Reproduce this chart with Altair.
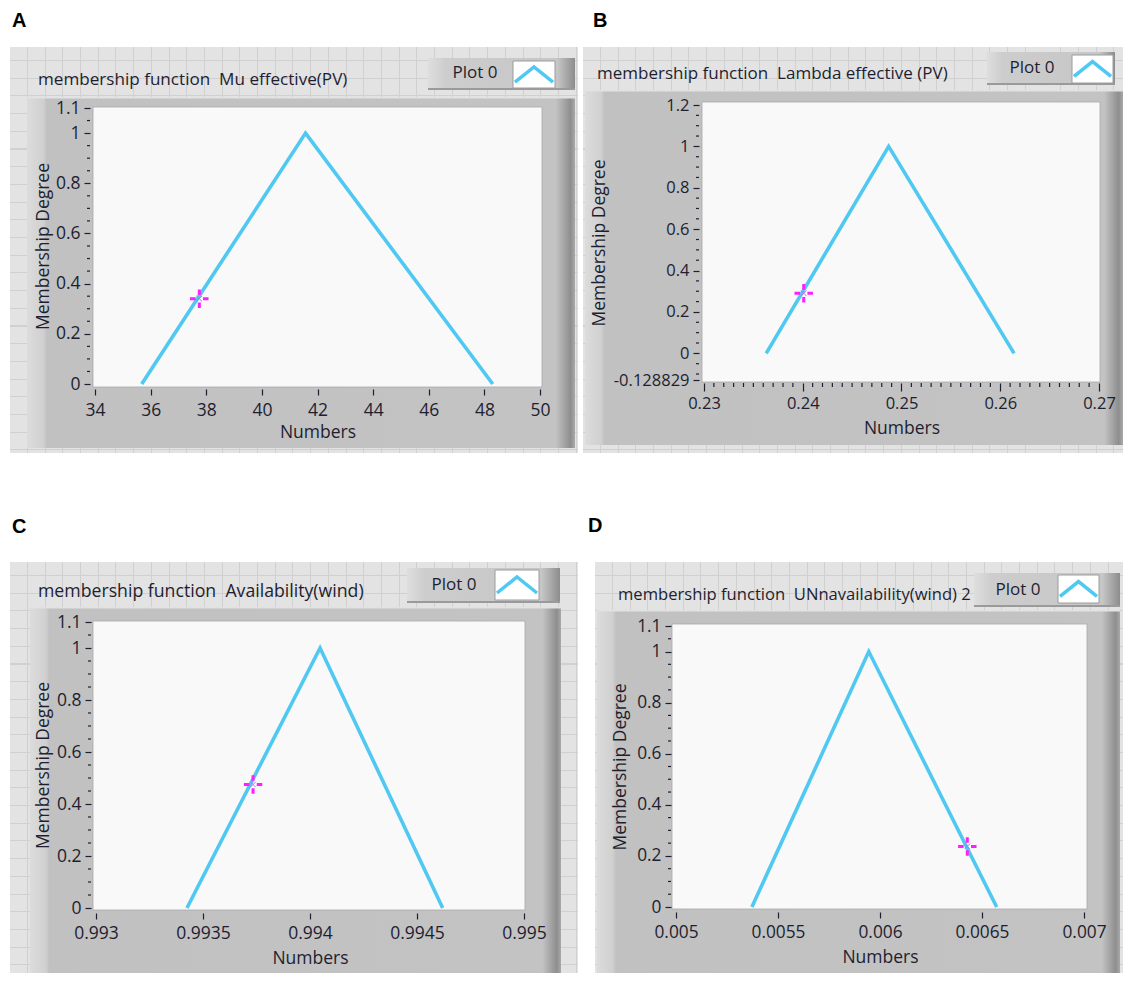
import altair as alt
import pandas as pd

# ---------------- values ----------------
# Panel A : Mu effective (PV)
A_x = [35.68, 41.57, 48.30]
A_y = [0.0, 1.0, 0.0]
A_cursor_x = [37.75]
A_cursor_y = [0.34]
A_x_ticks = [34, 36, 38, 40, 42, 44, 46, 48, 50]
A_x_labels = ["34", "36", "38", "40", "42", "44", "46", "48", "50"]
A_y_ticks = [0, 0.2, 0.4, 0.6, 0.8, 1, 1.1]
A_y_labels = ["0", "0.2", "0.4", "0.6", "0.8", "1", "1.1"]

# Panel B : Lambda effective (PV)
B_x = [0.2363, 0.2487, 0.2614]
B_y = [0.0, 1.0, 0.0]
B_cursor_x = [0.2401]
B_cursor_y = [0.29]
B_x_ticks = [0.23, 0.24, 0.25, 0.26, 0.27]
B_x_labels = ["0.23", "0.24", "0.25", "0.26", "0.27"]
B_y_ticks = [-0.128829, 0, 0.2, 0.4, 0.6, 0.8, 1, 1.2]
B_y_labels = ["-0.128829", "0", "0.2", "0.4", "0.6", "0.8", "1", "1.2"]

# Panel C : Availability (wind)
C_x = [0.993425, 0.994047, 0.994620]
C_y = [0.0, 1.0, 0.0]
C_cursor_x = [0.993734]
C_cursor_y = [0.475]
C_x_ticks = [0.993, 0.9935, 0.994, 0.9945, 0.995]
C_x_labels = ["0.993", "0.9935", "0.994", "0.9945", "0.995"]
C_y_ticks = [0, 0.2, 0.4, 0.6, 0.8, 1, 1.1]
C_y_labels = ["0", "0.2", "0.4", "0.6", "0.8", "1", "1.1"]

# Panel D : UNnavailability (wind)
D_x = [0.005372, 0.005945, 0.006572]
D_y = [0.0, 1.0, 0.0]
D_cursor_x = [0.006428]
D_cursor_y = [0.237]
D_x_ticks = [0.005, 0.0055, 0.006, 0.0065, 0.007]
D_x_labels = ["0.005", "0.0055", "0.006", "0.0065", "0.007"]
D_y_ticks = [0, 0.2, 0.4, 0.6, 0.8, 1, 1.1]
D_y_labels = ["0", "0.2", "0.4", "0.6", "0.8", "1", "1.1"]


def minor_between(lo, hi, step, majors):
    n = int(round((hi - lo) / step))
    vals = [round(lo + i * step, 6) for i in range(n + 1)]
    return [v for v in vals if all(abs(v - m) > 1e-9 for m in majors) and lo < v < hi]


A_y_minor = minor_between(0, 1.1, 0.05, A_y_ticks)
B_y_minor = minor_between(-0.1, 1.2, 0.05, B_y_ticks) + [-0.1]
B_x_minor = minor_between(0.23, 0.27, 0.001, B_x_ticks)
C_y_minor = minor_between(0, 1.1, 0.05, C_y_ticks)
D_y_minor = minor_between(0, 1.1, 0.05, D_y_ticks)

# ---------------- styling ----------------
FONT = "Open Sans"
INK = "#1e1e30"
LINE = "#4fc8f2"
CURSOR = "#ff1eff"
GRIDLINE = "#d0d0d0"
CLEAR = "rgba(208,208,208,0)"
ONE = pd.DataFrame({"k": [0]})
NB = "\u00a0"

PLUS = "M-1,0L-0.4,0M0.4,0L1,0M0,-1L0,-0.4M0,0.4L0,1"
XMARK = "M-0.3,-0.3L0.3,0.3M-0.3,0.3L0.3,-0.3"
CHEVRON = "M-1,0.4L0,-0.4L1,0.4"


def grad(stops, vertical=False):
    return alt.LinearGradient(
        gradient="linear",
        stops=[alt.GradientStop(offset=o, color=c) for o, c in stops],
        x1=0, x2=0 if vertical else 1, y1=0, y2=1 if vertical else 0)


def stripes(length, start, step):
    stops = [(0, CLEAR)]
    p = start
    while p + 1 < length:
        a, b = p / length, (p + 1) / length
        stops += [(a, CLEAR), (a, GRIDLINE), (b, GRIDLINE), (b, CLEAR)]
        p += step
    stops.append((1, CLEAR))
    return stops


FRAME_FILL = grad([(0, "#dcdcdc"), (0.03, "#d0d0d0"), (0.036, "#c1c1c1"),
                   (0.965, "#c3c3c3"), (0.992, "#8e8e8e"), (1, "#a9a9a9")])
LEGEND_FILL = grad([(0, "#dedede"), (0.12, "#cdcdcd"), (0.88, "#c6c6c6"), (1, "#8c8c8c")])


def label_expr(ticks, labels):
    expr = "''"
    for v, lab in reversed(list(zip(ticks, labels))):
        expr = f"datum.value === {v!r} ? '{lab}' : ({expr})"
    return expr


def panel(p):
    # every geometric number below is a page coordinate; the panel's view is the whole cell
    ox, oy, ex, ey = p["cell"]
    cw, ch = ex - ox, ey - oy
    X0 = lambda v: v - ox
    Y0 = lambda v: v - oy
    lfs = p["label_size"]

    def rect(b, **kw):
        return alt.Chart(ONE).mark_rect(**kw).encode(
            x=alt.value(X0(b[0])), x2=alt.value(X0(b[2])),
            y=alt.value(Y0(b[1])), y2=alt.value(Y0(b[3])))

    def text(s, xy, **kw):
        opts = dict(align="left", baseline="middle", font=FONT, fontSize=16.8, color=INK)
        opts.update(kw)
        return alt.Chart(ONE).mark_text(text=s, **opts).encode(
            x=alt.value(X0(xy[0])), y=alt.value(Y0(xy[1])))

    layers = [rect((ox, oy, ex, ey), fill="white")]
    layers.append(text(p["letter"], p["letter_xy"], font="Liberation Sans", fontSize=20,
                       fontWeight="bold", color="#000000"))
    g = p["grid"]
    layers.append(rect(g, fill="#e3e3e3"))
    layers.append(rect(g, fill=grad(stripes(g[2] - g[0], 17, 17.7))))
    layers.append(rect(g, fill=grad(stripes(g[3] - g[1], 13, 17.7), vertical=True)))
    f = p["frame"]
    layers.append(rect(f, fill=FRAME_FILL))
    layers.append(rect((f[0], f[1], f[2], f[1] + 1.5), fill="#e2e2e2"))
    layers.append(text(p["caption"], p["caption_xy"], fontSize=p["caption_size"]))
    lg = p["legend"]
    layers.append(rect(lg, fill=LEGEND_FILL))
    layers.append(rect((lg[0], lg[3] - 2, lg[2], lg[3]), fill="#9a9a9a"))
    sw = p["swatch"]
    layers.append(rect(sw, fill="white", stroke="#9c9c9c", strokeWidth=1))
    layers.append(alt.Chart(ONE).mark_point(shape=CHEVRON, size=(sw[2] - sw[0] - 4) ** 2, color=LINE,
                                            filled=False, strokeWidth=3.5, opacity=1).encode(
        x=alt.value(X0((sw[0] + sw[2]) / 2)), y=alt.value(Y0((sw[1] + sw[3]) / 2))))
    layers.append(text("Plot 0", p["legend_text"], align="center", fontSize=17))
    layers.append(rect(p["white"], fill="#f9f9f9", stroke="#a8a8a8", strokeWidth=0.8))

    px0, py0, px1, py1 = p["plot"]          # plot rectangle (domain ends) in page pixels
    xs = alt.Scale(domain=[p["x_ticks"][0], p["x_ticks"][-1]], range=[X0(px0), X0(px1)],
                   nice=False, zero=False)
    ys = alt.Scale(domain=[p["y_ticks"][0], p["y_ticks"][-1]], range=[Y0(py1), Y0(py0)],
                   nice=False, zero=False)

    x_axis = alt.Axis(
        values=p["x_ticks"], labelExpr=label_expr(p["x_ticks"], p["x_labels"]),
        offset=Y0(py1) + p["x_off"] - ch, tickSize=p["x_tick"], labelPadding=p["x_pad"],
        domain=False, grid=False, tickColor=INK, tickWidth=1.2,
        labelFont=FONT, labelFontSize=lfs, labelColor=INK, labelFlush=False, labelOverlap=False,
        labelAngle=0,
        title="Numbers", titleFont=FONT, titleFontSize=17.5, titleFontWeight="normal", titleColor=INK,
        titleX=X0((px0 + px1) / 2), titleY=p["x_title"] - p["x_off"], titleAlign="center",
        titleBaseline="middle", titleAngle=0, zindex=1)
    y_axis = alt.Axis(
        values=p["y_ticks"], labelExpr=label_expr(p["y_ticks"], p["y_labels"]),
        offset=5 - X0(px0), tickSize=6, labelPadding=4,
        domain=False, grid=False, tickColor=INK, tickWidth=1.2,
        labelFont=FONT, labelFontSize=lfs, labelColor=INK, labelFlush=False, labelOverlap=False,
        title="Membership Degree", titleFont=FONT, titleFontSize=17.5, titleFontWeight="normal",
        titleColor=INK, titleX=p["y_title"] - (px0 - 5), titleY=Y0((py0 + py1) / 2),
        titleAlign="center", titleBaseline="middle", titleAngle=270, zindex=1)

    X = lambda fld: alt.X(fld, scale=xs, axis=x_axis)
    Y = lambda fld: alt.Y(fld, scale=ys, axis=y_axis)

    layers.append(alt.Chart(pd.DataFrame({"v": p["y_minor"]})).mark_rule(color=INK, strokeWidth=1.2).encode(
        y=Y("v:Q"), x=alt.value(X0(px0) - 8), x2=alt.value(X0(px0) - 5)))
    if p.get("x_minor"):
        layers.append(alt.Chart(pd.DataFrame({"v": p["x_minor"]})).mark_rule(color=INK, strokeWidth=1.2).encode(
            x=X("v:Q"), y=alt.value(Y0(py1) + p["x_off"]), y2=alt.value(Y0(py1) + p["x_off"] + 4)))

    df = pd.DataFrame({"x": p["x"], "y": p["y"]})
    layers.append(alt.Chart(df).mark_line(color=LINE, strokeWidth=3.6).encode(x=X("x:Q"), y=Y("y:Q")))
    cur = pd.DataFrame({"x": p["cx"], "y": p["cy"]})
    layers.append(alt.Chart(cur).mark_point(shape=PLUS, size=340, color=CURSOR, filled=False,
                                            strokeWidth=3, opacity=1).encode(x=X("x:Q"), y=Y("y:Q")))
    layers.append(alt.Chart(cur).mark_point(shape=XMARK, size=340, color="#b070f0", filled=False,
                                            strokeWidth=1, opacity=0.9).encode(x=X("x:Q"), y=Y("y:Q")))

    return alt.layer(*layers).properties(width=cw, height=ch)


PA = dict(x=A_x, y=A_y, cx=A_cursor_x, cy=A_cursor_y,
          x_ticks=A_x_ticks, x_labels=A_x_labels, y_ticks=A_y_ticks, y_labels=A_y_labels,
          y_minor=A_y_minor, x_minor=None, label_size=17.5, caption_size=17.1,
          cell=(8, 8, 583, 505), plot=(95, 108, 540, 384),
          letter="A", letter_xy=(12, 21),
          grid=(10, 47, 578, 453), frame=(27, 97, 575, 448),
          legend=(428, 58, 575, 90), swatch=(513, 61, 555, 88), legend_text=(475, 73),
          caption="membership function" + NB + NB + "Mu effective(PV)", caption_xy=(38, 80),
          white=(93, 107, 542, 387), x_off=5, x_tick=6, x_pad=6, x_title=48, y_title=43)

PB = dict(x=B_x, y=B_y, cx=B_cursor_x, cy=B_cursor_y,
          x_ticks=B_x_ticks, x_labels=B_x_labels, y_ticks=B_y_ticks, y_labels=B_y_labels,
          y_minor=B_y_minor, x_minor=B_x_minor, label_size=16.5, caption_size=17.0,
          cell=(583, 8, 1123, 505), plot=(704, 105, 1099, 380),
          letter="B", letter_xy=(593, 21),
          grid=(583, 47, 1123, 453), frame=(585, 90, 1123, 445),
          legend=(987, 52, 1115, 85), swatch=(1072, 55, 1113, 83), legend_text=(1032, 68),
          caption="membership function" + NB + NB + "Lambda effective (PV)", caption_xy=(597, 74),
          white=(702, 102, 1100, 382), x_off=3, x_tick=8, x_pad=4, x_title=48, y_title=599)

PC = dict(x=C_x, y=C_y, cx=C_cursor_x, cy=C_cursor_y,
          x_ticks=C_x_ticks, x_labels=C_x_labels, y_ticks=C_y_ticks, y_labels=C_y_labels,
          y_minor=C_y_minor, x_minor=None, label_size=17.5, caption_size=17.7,
          cell=(8, 505, 583, 973), plot=(96, 622, 524, 908),
          letter="C", letter_xy=(12, 527),
          grid=(10, 562, 578, 973), frame=(30, 607, 561, 973),
          legend=(407, 568, 560, 603), swatch=(495, 570, 539, 600), legend_text=(454, 585),
          caption="membership function" + NB + NB + "Availability(wind)", caption_xy=(38, 592),
          white=(93, 621, 525, 910), x_off=5, x_tick=6, x_pad=5, x_title=50, y_title=43)

PD = dict(x=D_x, y=D_y, cx=D_cursor_x, cy=D_cursor_y,
          x_ticks=D_x_ticks, x_labels=D_x_labels, y_ticks=D_y_ticks, y_labels=D_y_labels,
          y_minor=D_y_minor, x_minor=None, label_size=17.3, caption_size=16.6,
          cell=(583, 505, 1123, 973), plot=(676, 626, 1084, 907),
          letter="D", letter_xy=(588, 526),
          grid=(595, 562, 1123, 973), frame=(597, 610, 1120, 973),
          legend=(974, 573, 1120, 607), swatch=(1058, 575, 1099, 603), legend_text=(1018, 590),
          caption="membership function" + NB + NB + "UNnavailability(wind) 2", caption_xy=(618, 595),
          white=(672, 624, 1087, 909), x_off=5, x_tick=6, x_pad=5, x_title=50, y_title=620)

chart = alt.concat(
    panel(PA), panel(PB), panel(PC), panel(PD),
    columns=2, spacing=0, bounds="flush",
).properties(padding=0).configure_view(stroke=None)

chart.save("out.html", embed_options={"renderer": "svg", "actions": False})
